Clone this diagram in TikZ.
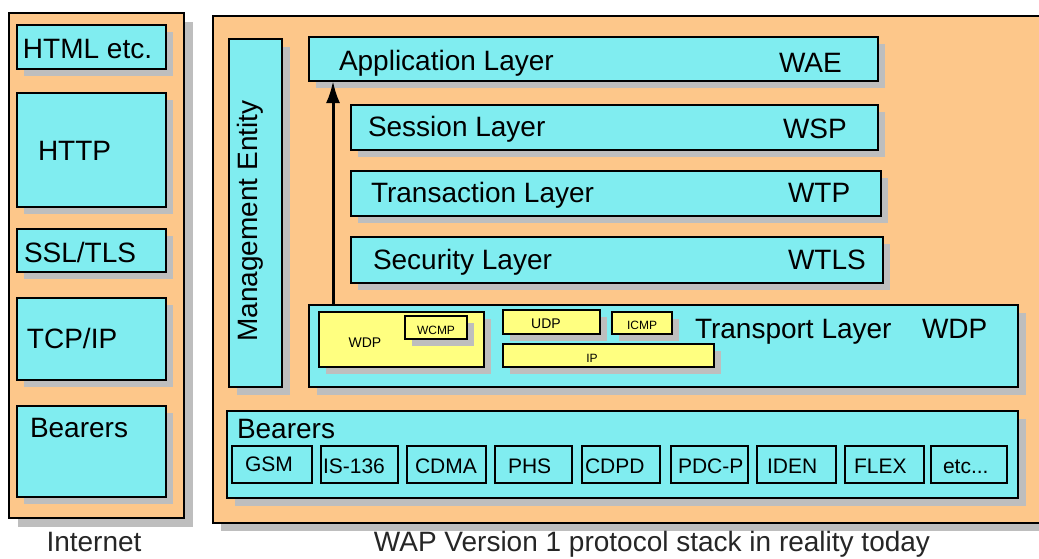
\documentclass[tikz,border=0pt]{standalone}
\usepackage{fontspec}
\setmainfont{Liberation Sans}
\usetikzlibrary{shadows,arrows.meta}
\definecolor{peach}{RGB}{253,199,138}
\definecolor{cyanbox}{RGB}{128,237,240}
\definecolor{yel}{RGB}{255,255,128}
\definecolor{shadgray}{RGB}{190,190,190}
\tikzset{
  box/.style={draw=black, line width=1.5pt, inner sep=0pt, outer sep=0pt, rectangle},
  shd/.style={drop shadow={shadow xshift=#1, shadow yshift=-#1, fill=shadgray, opacity=1}},
  shd/.default=7pt,
  outerbox/.style={box, fill=peach},
  layer/.style={box, fill=cyanbox},
  proto/.style={box, fill=yel},
  lbl/.style={inner sep=0pt, outer sep=0pt, font=\fontsize{28}{30}\selectfont},
  smalltxt/.style={inner sep=0pt, outer sep=0pt, font=\fontsize{21}{23}\selectfont},
  tinytxt/.style={inner sep=0pt, outer sep=0pt, font=\fontsize{14}{16}\selectfont},
  tiniertxt/.style={inner sep=0pt, outer sep=0pt, font=\fontsize{12}{14}\selectfont},
  captxt/.style={inner sep=0pt, outer sep=0pt, font=\fontsize{28}{30}\selectfont, text=black!85},
  upar/.style={line width=3pt, -{Latex[length=22pt,width=14pt]}}
}
% #1 style, #2 x1, #3 y1, #4 x2, #5 y2, #6 name
\newcommand\bx[6][]{\node[#1, minimum width={#4-#2}, minimum height={#5-#3}] (#6) at ({(#2+#4)/2},{(#3+#5)/2}) {};}
\begin{document}
\begin{tikzpicture}[x=1pt,y=-1pt]
\fill[white] (0,0) rectangle (1039,558);
\clip (0,0) rectangle (1039,558);
% outer boxes
\bx[outerbox, shd=9pt]{9}{13}{184}{518}{inet}
\bx[outerbox, shd=8pt]{213}{16}{1070}{523}{wap}
% internet stack
\bx[layer, shd]{17}{25}{166}{69}{html}
\bx[layer, shd]{17}{93}{166}{207}{http}
\bx[layer, shd]{17}{229}{166}{272}{ssl}
\bx[layer, shd]{17}{298}{166}{380}{tcp}
\bx[layer, shd]{17}{406}{166}{497}{lbear}
\node[lbl, anchor=base west] (thtml) at (23,58) {HTML etc.};
\node[lbl, anchor=base west] (thttp) at (38,160) {HTTP};
\node[lbl, anchor=base west] (tssl) at (24,262) {SSL/TLS};
\node[lbl, anchor=base west] (ttcp) at (27,348) {TCP/IP};
\node[lbl, anchor=base west] (tlbear) at (30,437) {Bearers};
% WAP stack
\bx[layer, shd=8pt]{229}{39}{282}{387}{mgmt}
\node[lbl, rotate=90, anchor=base] (tmgmt) at (257,221) {Management Entity};
\bx[layer, shd]{309}{37}{878}{81}{app}
\bx[layer, shd]{351}{105}{878}{150}{sess}
\bx[layer, shd]{351}{171}{881}{216}{trans}
\bx[layer, shd]{351}{237}{883}{283}{sec}
\node[lbl, anchor=base west] (tapp) at (339,70) {Application Layer};
\node[lbl, anchor=base west] (twae) at (779,72) {WAE};
\node[lbl, anchor=base west] (tsess) at (368,136) {Session Layer};
\node[lbl, anchor=base west] (twsp) at (783,138) {WSP};
\node[lbl, anchor=base west] (ttrans) at (371,202) {Transaction Layer};
\node[lbl, anchor=base west] (twtp) at (788,202) {WTP};
\node[lbl, anchor=base west] (tsec) at (373,269) {Security Layer};
\node[lbl, anchor=base west] (twtls) at (788,269) {WTLS};
% transport
\bx[layer, shd=8pt]{309}{305}{1018}{387}{tport}
\bx[proto, shd]{319}{312}{484}{367}{wdpb}
\bx[proto, shd]{405}{316}{467}{339}{wcmp}
\bx[proto, shd]{503}{310}{600}{334}{udp}
\bx[proto, shd]{612}{312}{672}{334}{icmp}
\bx[proto, shd]{503}{344}{714}{367}{ip}
\node[tinytxt, anchor=base] (twdp) at (365,347) {WDP};
\node[tiniertxt, anchor=base] (twcmp) at (436,334) {WCMP};
\node[tinytxt, anchor=base] (tudp) at (546,328) {UDP};
\node[tiniertxt, anchor=base] (ticmp) at (642,329) {ICMP};
\node[tiniertxt, anchor=base] (tip) at (592,362) {IP};
\node[lbl, anchor=base west] (ttport) at (695,338) {Transport Layer};
\node[lbl, anchor=base west] (twdpl) at (922,338) {WDP};
% arrow
\coordinate (ax) at (333,0);
\draw[upar] (ax |- tport.north) -- (ax |- app.south);
% bearers
\bx[layer, shd=8pt]{227}{411}{1018}{498}{rbear}
\node[lbl, anchor=base west] (trbear) at (237,438) {Bearers};
\bx[layer]{232}{446}{312}{483}{gsm}
\bx[layer]{321}{446}{398}{483}{is}
\bx[layer]{407}{446}{486}{483}{cdma}
\bx[layer]{495}{446}{572}{483}{phs}
\bx[layer]{582}{446}{660}{483}{cdpd}
\bx[layer]{671}{446}{748}{483}{pdcp}
\bx[layer]{757}{446}{836}{483}{iden}
\bx[layer]{845}{446}{924}{483}{flex}
\bx[layer]{931}{446}{1007}{483}{etc}
\node[smalltxt, anchor=base west] (tgsm) at (245,471) {GSM};
\node[smalltxt, anchor=base west] (tis) at (323,473) {IS-136};
\node[smalltxt, anchor=base west] (tcdma) at (415,473) {CDMA};
\node[smalltxt, anchor=base west] (tphs) at (508,473) {PHS};
\node[smalltxt, anchor=base west] (tcdpd) at (585,473) {CDPD};
\node[smalltxt, anchor=base west] (tpdcp) at (678,473) {PDC-P};
\node[smalltxt, anchor=base west] (tiden) at (767,473) {IDEN};
\node[smalltxt, anchor=base west] (tflex) at (854,473) {FLEX};
\node[smalltxt, anchor=base west] (tetc) at (943,473) {etc...};
% captions
\node[captxt, anchor=base] (cinet) at (94,551.5) {Internet};
\node[captxt, anchor=base] (cwap) at (652,551.5) {WAP Version 1 protocol stack in reality today};
\end{tikzpicture}
\end{document}
